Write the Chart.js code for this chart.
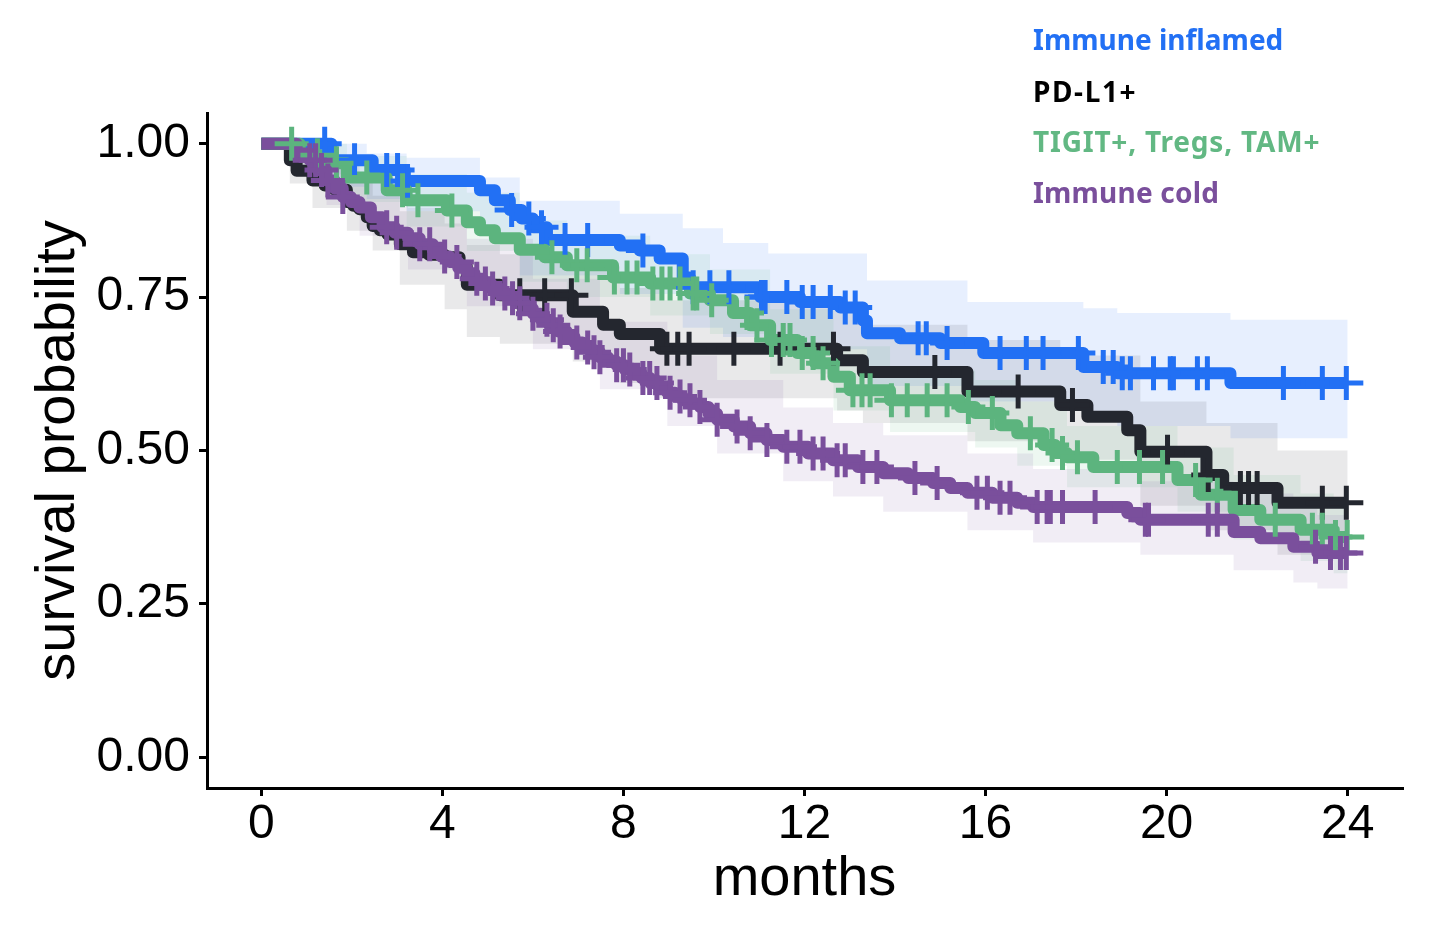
<!DOCTYPE html>
<html><head><meta charset="utf-8">
<script src="https://cdn.jsdelivr.net/npm/chart.js@4.4.1/dist/chart.umd.min.js"></script>
<style>
html,body{margin:0;padding:0;background:#fff;}
#wrap{position:relative;width:1440px;height:938px;overflow:hidden;}
#c{position:absolute;left:0;top:0;}
#legend{position:absolute;left:1033px;top:0;font-family:"Noto Sans",sans-serif;font-weight:700;font-size:28px;}
#legend div{position:absolute;left:0;white-space:nowrap;line-height:1;}
</style></head>
<body><div id="wrap"><canvas id="c" width="1440" height="938"></canvas><div id="legend"></div></div>
<script>
// ---------- data ----------
const seriesNames = ['Immune inflamed', 'PD-L1+', 'TIGIT+, Tregs, TAM+', 'Immune cold'];
const xTicks = [0, 4, 8, 12, 16, 20, 24];
const xTickLabels = ['0', '4', '8', '12', '16', '20', '24'];
const yTicks = [0, 0.25, 0.5, 0.75, 1];
const yTickLabels = ['0.00', '0.25', '0.50', '0.75', '1.00'];

// Immune inflamed
const blueTime = [0, 1.55, 2.46, 3.17, 4.83, 5.16, 5.49, 5.75, 6.00, 6.31, 7.92, 8.36, 8.80, 9.31, 9.47, 11.02, 11.90, 12.79, 13.29, 13.38, 14.11, 15.00, 15.95, 18.16, 18.91, 21.41, 24];
const blueSurv = [1.000, 0.973, 0.957, 0.939, 0.924, 0.908, 0.892, 0.878, 0.864, 0.843, 0.834, 0.826, 0.813, 0.782, 0.766, 0.750, 0.742, 0.733, 0.712, 0.691, 0.683, 0.675, 0.659, 0.636, 0.626, 0.610, 0.610];
const blueCensor = [1.40, 2.06, 2.77, 3.01, 3.23, 5.53, 5.91, 6.19, 6.71, 7.21, 8.43, 9.54, 9.91, 10.33, 11.05, 11.13, 11.61, 11.95, 12.19, 12.57, 12.90, 13.12, 14.51, 14.69, 15.15, 16.32, 16.90, 17.27, 18.05, 18.60, 18.82, 19.02, 19.20, 19.71, 20.08, 20.15, 20.68, 20.90, 22.58, 23.44, 23.97];
const blueCITime = [0, 1.55, 2.33, 3.21, 4.83, 5.71, 7.92, 9.31, 10.2, 11.2, 13.38, 15.6, 18.16, 18.91, 21.41, 24];
const blueLower = [1.000, 0.930, 0.910, 0.890, 0.855, 0.785, 0.755, 0.700, 0.685, 0.665, 0.605, 0.580, 0.555, 0.540, 0.520, 0.520];
const blueUpper = [1.000, 1.000, 0.984, 0.977, 0.945, 0.907, 0.886, 0.862, 0.838, 0.821, 0.777, 0.742, 0.732, 0.724, 0.713, 0.713];

// PD-L1+
const blackTime = [0, 0.63, 0.78, 1.13, 1.40, 1.62, 1.89, 2.03, 2.17, 2.33, 2.46, 2.62, 2.79, 3.06, 3.35, 3.70, 4.05, 4.38, 4.54, 5.27, 6.88, 7.55, 7.92, 8.81, 12.72, 13.29, 15.60, 17.65, 18.25, 19.13, 19.42, 20.88, 21.25, 22.45, 24];
const blackSurv = [1.000, 0.973, 0.956, 0.940, 0.932, 0.925, 0.905, 0.899, 0.893, 0.880, 0.866, 0.859, 0.852, 0.836, 0.823, 0.819, 0.815, 0.800, 0.770, 0.753, 0.726, 0.705, 0.690, 0.666, 0.647, 0.628, 0.596, 0.574, 0.555, 0.533, 0.498, 0.460, 0.439, 0.415, 0.415];
const blackCensor = [5.71, 6.26, 6.85, 8.96, 9.20, 9.45, 10.44, 11.46, 12.64, 14.88, 16.72, 17.92, 20.02, 20.92, 21.63, 21.81, 22.00, 23.44, 23.97];
const blackCITime = [0, 0.63, 1.13, 1.89, 2.46, 3.06, 4.05, 4.54, 5.27, 6.88, 7.92, 8.81, 12.72, 13.29, 15.6, 17.65, 19.42, 20.88, 22.45, 24];
const blackLower = [1.000, 0.935, 0.895, 0.858, 0.826, 0.770, 0.730, 0.685, 0.674, 0.645, 0.610, 0.585, 0.565, 0.545, 0.515, 0.485, 0.410, 0.370, 0.330, 0.330];
const blackUpper = [1.000, 1.000, 0.980, 0.950, 0.915, 0.890, 0.870, 0.835, 0.820, 0.800, 0.765, 0.745, 0.725, 0.705, 0.680, 0.655, 0.580, 0.545, 0.500, 0.500];

// TIGIT+, Tregs, TAM+
const greenTime = [0, 0.85, 1.29, 1.89, 2.77, 3.21, 4.10, 4.54, 4.83, 5.16, 5.71, 6.26, 6.75, 7.77, 8.59, 9.47, 9.91, 10.42, 10.80, 11.24, 11.84, 12.24, 12.64, 13.00, 13.89, 15.44, 15.77, 16.33, 16.70, 17.28, 17.54, 17.80, 18.38, 20.24, 20.75, 21.48, 22.07, 22.96, 23.69, 24];
const greenSurv = [1.000, 0.981, 0.968, 0.945, 0.924, 0.908, 0.891, 0.872, 0.859, 0.846, 0.827, 0.815, 0.802, 0.782, 0.772, 0.756, 0.745, 0.724, 0.704, 0.680, 0.659, 0.642, 0.620, 0.598, 0.582, 0.571, 0.561, 0.541, 0.528, 0.509, 0.496, 0.489, 0.473, 0.452, 0.428, 0.403, 0.387, 0.371, 0.359, 0.359];
const greenCensor = [0.67, 1.24, 1.66, 2.33, 3.12, 3.46, 4.21, 6.42, 6.97, 7.20, 7.80, 8.08, 8.30, 8.65, 8.85, 9.03, 9.25, 9.54, 9.62, 9.95, 10.73, 10.95, 11.27, 11.53, 11.68, 11.95, 12.19, 12.41, 13.07, 13.27, 13.45, 13.92, 14.27, 14.71, 15.15, 15.62, 16.15, 16.99, 17.47, 17.70, 18.03, 18.91, 19.40, 19.91, 20.64, 21.12, 22.40, 23.22, 23.44, 23.73, 23.99];
const greenCITime = [0, 0.85, 1.89, 3.21, 4.54, 5.71, 6.75, 8.59, 9.91, 11.24, 12.64, 13.89, 15.77, 16.70, 17.80, 20.24, 21.48, 22.96, 23.69, 24];
const greenLower = [1.000, 0.950, 0.905, 0.865, 0.825, 0.775, 0.750, 0.720, 0.690, 0.625, 0.565, 0.530, 0.505, 0.475, 0.440, 0.400, 0.355, 0.320, 0.300, 0.300];
const greenUpper = [1.000, 1.000, 0.980, 0.950, 0.920, 0.875, 0.850, 0.820, 0.795, 0.730, 0.670, 0.630, 0.615, 0.580, 0.540, 0.505, 0.460, 0.430, 0.420, 0.420];

// Immune cold
const purpleTime = [0, 0.78, 1.07, 1.25, 1.44, 1.62, 1.80, 1.98, 2.17, 2.42, 2.68, 2.95, 3.24, 3.50, 3.79, 3.97, 4.16, 4.35, 4.54, 4.71, 4.89, 5.08, 5.27, 5.45, 5.64, 5.82, 6.00, 6.18, 6.37, 6.56, 6.75, 6.92, 7.10, 7.29, 7.48, 7.66, 7.85, 8.03, 8.21, 8.40, 8.59, 8.78, 8.97, 9.14, 9.31, 9.50, 9.69, 9.88, 10.07, 10.44, 10.80, 11.16, 11.53, 12.08, 12.63, 13.18, 13.74, 14.29, 14.84, 15.22, 15.60, 16.15, 16.70, 17.05, 19.13, 19.42, 21.48, 22.07, 22.80, 23.33, 24];
const purpleSurv = [1.000, 0.984, 0.973, 0.957, 0.940, 0.927, 0.913, 0.905, 0.896, 0.880, 0.864, 0.855, 0.846, 0.836, 0.826, 0.816, 0.807, 0.798, 0.789, 0.780, 0.772, 0.764, 0.756, 0.748, 0.740, 0.731, 0.723, 0.713, 0.704, 0.694, 0.685, 0.676, 0.668, 0.660, 0.652, 0.645, 0.639, 0.632, 0.626, 0.618, 0.610, 0.602, 0.594, 0.588, 0.582, 0.576, 0.571, 0.560, 0.550, 0.539, 0.528, 0.517, 0.506, 0.495, 0.484, 0.473, 0.463, 0.455, 0.447, 0.439, 0.431, 0.423, 0.415, 0.408, 0.398, 0.387, 0.367, 0.357, 0.343, 0.333, 0.333];
const purpleCensor = [1.07, 1.20, 1.33, 1.47, 1.80, 2.77, 2.99, 3.50, 3.72, 4.05, 4.32, 4.76, 4.95, 5.11, 5.38, 5.55, 5.71, 6.00, 6.31, 6.45, 6.60, 6.97, 7.21, 7.35, 7.48, 7.85, 8.00, 8.14, 8.43, 8.58, 8.74, 9.03, 9.25, 9.47, 9.69, 10.07, 10.51, 10.80, 11.17, 11.61, 11.90, 12.19, 12.41, 12.72, 12.90, 13.29, 13.60, 14.44, 14.93, 15.81, 16.04, 16.32, 16.54, 17.14, 17.36, 17.43, 17.70, 18.42, 19.53, 19.60, 20.92, 21.12, 23.29, 23.62, 23.84, 23.97];
const purpleCITime = [0, 0.78, 1.44, 2.17, 3.24, 4.54, 6.00, 7.48, 8.97, 10.07, 11.53, 12.63, 13.74, 15.60, 17.05, 19.42, 21.48, 22.80, 23.33, 24];
const purpleLower = [1.000, 0.955, 0.900, 0.850, 0.795, 0.735, 0.665, 0.600, 0.540, 0.495, 0.450, 0.425, 0.400, 0.370, 0.350, 0.330, 0.305, 0.285, 0.275, 0.275];
const purpleUpper = [1.000, 1.000, 0.975, 0.940, 0.895, 0.845, 0.780, 0.710, 0.655, 0.615, 0.570, 0.545, 0.525, 0.495, 0.470, 0.450, 0.430, 0.405, 0.395, 0.395];

// ---------- styles ----------
const lineColors = ['#2270f4', '#24272f', '#5cb47e', '#7a4f9c'];
const legendColors = ['#2270f4', '#000000', '#62b883', '#7a4f9c'];
const legendSpacing = ['0px', '1.6px', '0.8px', '0.2px'];
const bandColors = ['rgba(34,112,244,0.11)', 'rgba(36,39,47,0.10)', 'rgba(92,180,126,0.11)', 'rgba(122,79,156,0.10)'];

const groups = [
  {time: blueTime, surv: blueSurv, censor: blueCensor, ciT: blueCITime, lo: blueLower, hi: blueUpper},
  {time: blackTime, surv: blackSurv, censor: blackCensor, ciT: blackCITime, lo: blackLower, hi: blackUpper},
  {time: greenTime, surv: greenSurv, censor: greenCensor, ciT: greenCITime, lo: greenLower, hi: greenUpper},
  {time: purpleTime, surv: purpleSurv, censor: purpleCensor, ciT: purpleCITime, lo: purpleLower, hi: purpleUpper}
];

function stepAt(times, vals, t) {
  let v = vals[0];
  for (let i = 0; i < times.length; i++) { if (times[i] <= t) v = vals[i]; }
  return v;
}
const pts = (xs, ys) => xs.map((x, i) => ({x: x, y: ys[i]}));

const datasets = [];
groups.forEach((g, k) => {
  datasets.push({
    label: seriesNames[k] + ' upper', data: pts(g.ciT, g.hi), stepped: true,
    borderWidth: 0, borderColor: 'rgba(0,0,0,0)', pointRadius: 0,
    backgroundColor: bandColors[k], fill: '+1', order: 200 - k * 2
  });
  datasets.push({
    label: seriesNames[k] + ' lower', data: pts(g.ciT, g.lo), stepped: true,
    borderWidth: 0, borderColor: 'rgba(0,0,0,0)', pointRadius: 0,
    fill: false, order: 199 - k * 2
  });
});
groups.forEach((g, k) => {
  datasets.push({
    label: seriesNames[k], data: pts(g.time, g.surv), stepped: true,
    borderColor: lineColors[k], borderWidth: 12, borderJoinStyle: 'round', borderCapStyle: 'butt',
    pointRadius: 0, fill: false, order: 100 - k
  });
});
groups.forEach((g, k) => {
  datasets.push({
    label: seriesNames[k] + ' censored', data: g.censor.map(t => ({x: t, y: stepAt(g.time, g.surv, t)})),
    showLine: false, pointStyle: 'cross', pointRadius: 17, pointBorderWidth: 5,
    pointBorderColor: lineColors[k], pointBackgroundColor: lineColors[k], order: 50 - k
  });
});

const tickFont = {family: 'Liberation Sans', size: 48};
const titleFont = {family: 'Liberation Sans', size: 56};

new Chart(document.getElementById('c'), {
  type: 'line',
  data: {datasets: datasets},
  options: {
    responsive: false, animation: false, devicePixelRatio: 1,
    layout: {padding: {left: 0, top: 113, right: 38, bottom: 0}},
    plugins: {legend: {display: false}, tooltip: {enabled: false}},
    elements: {line: {tension: 0}},
    scales: {
      x: {
        type: 'linear', min: -1.2, max: 25.2,
        afterBuildTicks: s => { s.ticks = xTicks.map(v => ({value: v})); },
        afterFit: s => { s.height = 150; },
        ticks: {font: tickFont, color: '#000', padding: 0, maxRotation: 0, autoSkip: false,
          callback: v => xTickLabels[xTicks.indexOf(v)]},
        grid: {display: true, drawOnChartArea: false, drawTicks: true, tickLength: 8, color: '#000', lineWidth: 3},
        border: {display: true, color: '#000', width: 3},
        title: {display: true, text: 'months', font: titleFont, color: '#000', padding: {top: 0, bottom: 25}}
      },
      y: {
        type: 'linear', min: -0.05, max: 1.05,
        afterBuildTicks: s => { s.ticks = yTicks.map(v => ({value: v})); },
        afterFit: s => { s.width = 207; },
        ticks: {font: tickFont, color: '#000', padding: 9, autoSkip: false,
          callback: v => yTickLabels[yTicks.indexOf(v)]},
        grid: {display: true, drawOnChartArea: false, drawTicks: true, tickLength: 8, color: '#000', lineWidth: 3},
        border: {display: true, color: '#000', width: 3},
        title: {display: true, text: 'survival probability', font: titleFont, color: '#000', padding: {top: 25, bottom: 0}}
      }
    }
  }
});

// legend (text only, coloured)
const legendTops = [25, 77, 127, 178];
const leg = document.getElementById('legend');
seriesNames.forEach((n, k) => {
  const d = document.createElement('div');
  d.textContent = n;
  d.style.color = legendColors[k];
  d.style.letterSpacing = legendSpacing[k];
  d.style.top = legendTops[k] + 'px';
  leg.appendChild(d);
});
</script>
</body></html>
